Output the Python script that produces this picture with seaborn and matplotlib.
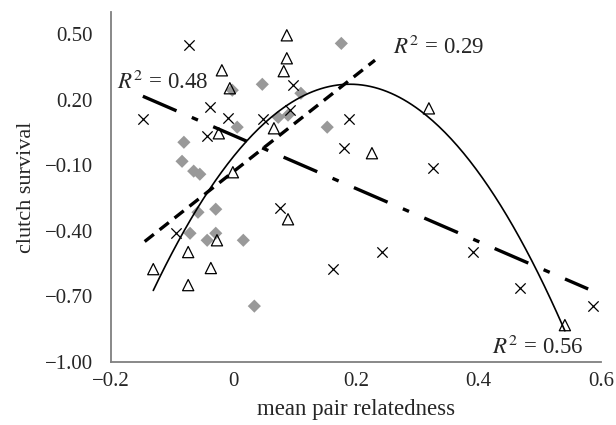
import numpy as np
import pandas as pd
import seaborn as sns
import matplotlib.pyplot as plt

# points (mean pair relatedness, clutch survival)
cross_x = [-0.073, -0.038, -0.148, -0.009, 0.048, -0.043, 0.097, 0.092, 0.189,
           0.180, 0.326, -0.094, 0.076, 0.242, 0.162, 0.391, 0.468, 0.587]
cross_y = [0.448, 0.165, 0.110, 0.115, 0.110, 0.032, 0.266, 0.151, 0.110,
           -0.022, -0.114, -0.411, -0.297, -0.498, -0.575, -0.498, -0.662, -0.744]

tri_x = [-0.019, -0.006, -0.024, 0.066, 0.087, 0.087, 0.082, 0.226, 0.319,
         -0.001, -0.027, -0.074, -0.131, -0.037, -0.074, 0.089, 0.541]
tri_y = [0.334, 0.252, 0.046, 0.069, 0.494, 0.389, 0.330, -0.045, 0.160,
         -0.132, -0.443, -0.497, -0.575, -0.570, -0.648, -0.347, -0.831]

dia_x = [-0.002, 0.047, 0.006, -0.081, -0.084, -0.065, -0.055, 0.176, 0.110, 0.073,
         0.089, 0.153, -0.058, -0.029, -0.071, -0.029, -0.043, 0.016, 0.034]
dia_y = [0.243, 0.270, 0.074, 0.005, -0.082, -0.127, -0.141, 0.457, 0.229, 0.119,
         0.129, 0.074, -0.315, -0.301, -0.411, -0.411, -0.443, -0.443, -0.744]

# fitted lines (coefficients, highest power first)
fit_dashdot = [-1.212, 0.036]       # R2 = 0.48
fit_dashdot_range = [-0.148, 0.579]
fit_dashed = [2.205, -0.129]        # R2 = 0.29
fit_dashed_range = [-0.145, 0.231]
fit_quad = [-9.15, 3.477, -0.060]   # R2 = 0.56
fit_quad_range = [-0.131, 0.541]

sns.set_style('white')
plt.rcParams['font.family'] = ['Liberation Serif', 'DejaVu Serif']
plt.rcParams['mathtext.fontset'] = 'stix'

fig = plt.figure(figsize=(6.16, 4.25), dpi=100)
ax = fig.add_axes([0.1802, 0.148, 0.7955, 0.8235])

df_cross = pd.DataFrame({'x': cross_x, 'y': cross_y})
df_tri = pd.DataFrame({'x': tri_x, 'y': tri_y})
df_dia = pd.DataFrame({'x': dia_x, 'y': dia_y})

sns.scatterplot(data=df_dia, x='x', y='y', marker='D', s=45, color='#999999',
                edgecolor='none', ax=ax, zorder=2)
sns.scatterplot(data=df_tri, x='x', y='y', marker='^', s=65, facecolor='none',
                edgecolor='black', linewidth=0.9, ax=ax, zorder=3)
sns.scatterplot(data=df_cross, x='x', y='y', marker='x', s=55, color='black',
                linewidth=0.9, ax=ax, zorder=3)

xs = np.linspace(*fit_dashdot_range, 100)
sns.lineplot(x=xs, y=np.polyval(fit_dashdot, xs), color='black', lw=2.4,
             ax=ax, zorder=4).lines[-1].set_dashes([11, 5, 2, 5])
xs = np.linspace(*fit_dashed_range, 100)
sns.lineplot(x=xs, y=np.polyval(fit_dashed, xs), color='black', lw=2.4,
             ax=ax, zorder=4).lines[-1].set_dashes([3.5, 2.2])
xs = np.linspace(*fit_quad_range, 200)
sns.lineplot(x=xs, y=np.polyval(fit_quad, xs), color='black', lw=1.2,
             ax=ax, zorder=4)

ax.text(-0.19, 0.279, r'$R^2$ = 0.48', fontsize=16.5, va='center', ha='left')
ax.text(0.26, 0.44, r'$R^2$ = 0.29', fontsize=16.5, va='center', ha='left')
ax.text(0.422, -0.932, r'$R^2$ = 0.56', fontsize=16.5, va='center', ha='left')

ax.set_xlim(-0.2, 0.6)
ax.set_ylim(-1.0, 0.6)
ax.set_xticks([-0.2, 0, 0.2, 0.4, 0.6])
ax.set_xticklabels(['\u22120.2', '0', '0.2', '0.4', '0.6'])
yt = [-1.0, -0.7, -0.4, -0.1, 0.2, 0.5]
ax.set_yticks(yt)
ax.set_yticklabels([f'{v:.2f}'.replace('-', '\u2212') for v in yt])

for s in ['top', 'right']:
    ax.spines[s].set_visible(False)
for s in ['left', 'bottom']:
    ax.spines[s].set_color('#7f7f7f')
    ax.spines[s].set_linewidth(1.3)
ax.tick_params(axis='both', direction='out', length=4, width=1, color='black')
ax.tick_params(axis='y', labelsize=15, pad=9)
ax.tick_params(axis='x', labelsize=15, pad=3)
ax.set_xlabel('mean pair relatedness', fontsize=16.5, labelpad=6)
ax.set_ylabel('clutch survival', fontsize=16, labelpad=6)

fig.savefig('out.png', dpi=100)
